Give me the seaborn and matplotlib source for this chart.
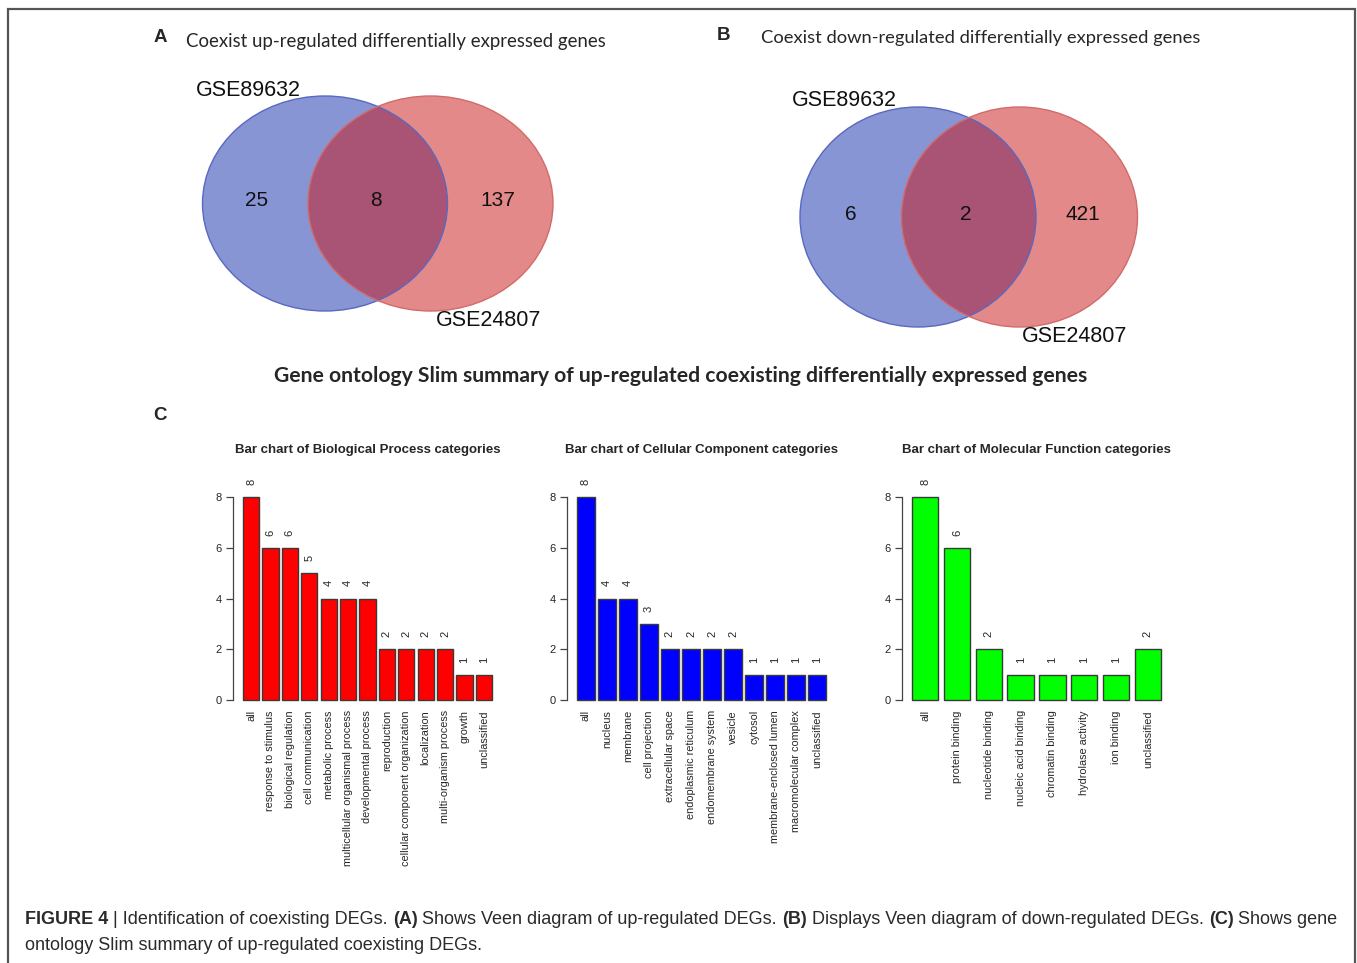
import matplotlib
matplotlib.use("Agg")
import matplotlib.pyplot as plt
import pandas as pd
import seaborn as sns
from matplotlib.patches import Ellipse

# ---- data -----------------------------------------------------------------
venn_sets = ["GSE89632", "GSE24807"]
up_counts = [25, 8, 137]      # only GSE89632, shared, only GSE24807
down_counts = [6, 2, 421]

bp_terms = ["all", "response to stimulus", "biological regulation",
            "cell communication", "metabolic process",
            "multicellular organismal process", "developmental process",
            "reproduction", "cellular component organization",
            "localization", "multi-organism process", "growth",
            "unclassified"]
bp_counts = [8, 6, 6, 5, 4, 4, 4, 2, 2, 2, 2, 1, 1]

cc_terms = ["all", "nucleus", "membrane", "cell projection",
            "extracellular space", "endoplasmic reticulum",
            "endomembrane system", "vesicle", "cytosol",
            "membrane-enclosed lumen", "macromolecular complex",
            "unclassified"]
cc_counts = [8, 4, 4, 3, 2, 2, 2, 2, 1, 1, 1, 1]

mf_terms = ["all", "protein binding", "nucleotide binding",
            "nucleic acid binding", "chromatin binding",
            "hydrolase activity", "ion binding", "unclassified"]
mf_counts = [8, 6, 2, 1, 1, 1, 1, 2]

y_ticks = [0, 2, 4, 6, 8]

# ---- figure setup -----------------------------------------------------------
sns.set_style("white")
plt.rcParams["font.family"] = ["Liberation Sans", "DejaVu Sans"]

W, H = 1357, 963
fig = plt.figure(figsize=(W / 100, H / 100), dpi=100)
fig.patch.set_facecolor("white")


def px_axes(x0, y0, x1, y1):
    return fig.add_axes([x0 / W, 1 - y1 / H, (x1 - x0) / W, (y1 - y0) / H])


# overlay in pixel units for titles, Venn diagrams and caption
ov = fig.add_axes([0, 0, 1, 1])
ov.set_xlim(0, W)
ov.set_ylim(H, 0)
ov.set_axis_off()

# outer frame (open at the bottom)
ov.plot([8, 8, 1355, 1355], [H, 9, 9, H], color="#555555", lw=1.6,
        clip_on=False, solid_joinstyle="miter")

HUMANIST = ["Lato", "DejaVu Sans"]

# ---- Venn diagrams ----------------------------------------------------------
BLUE = "#112dad"
RED = "#cb1515"


def draw_venn(centers, size, counts, count_pos, label_pos):
    (bx, by), (rx, ry) = centers
    w, h = size
    ov.add_patch(Ellipse((bx, by), w, h, facecolor=BLUE, alpha=0.5,
                         edgecolor="none"))
    ov.add_patch(Ellipse((rx, ry), w, h, facecolor=RED, alpha=0.5,
                         edgecolor="none"))
    ov.add_patch(Ellipse((bx, by), w, h, facecolor="none",
                         edgecolor="#5a68c0", lw=1.0))
    ov.add_patch(Ellipse((rx, ry), w, h, facecolor="none",
                         edgecolor="#d26a6a", lw=1.0))
    for n, (x, y) in zip(counts, count_pos):
        ov.text(x, y, str(n), ha="center", va="center", fontsize=15,
                color="#111111")
    for name, (x, y) in zip(venn_sets, label_pos):
        ov.text(x, y, name, ha="center", va="center", fontsize=15.5,
                color="#111111")


draw_venn([(325, 203.5), (430.5, 203.5)], (245, 215), up_counts,
          [(257, 201), (376, 201), (498, 201)],
          [(248, 90), (489, 320)])
draw_venn([(918, 217), (1019.5, 217)], (236, 220), down_counts,
          [(851, 214), (966, 214), (1083, 215)],
          [(844, 101), (1075, 336)])

ov.text(160, 37, "A", fontsize=13.5, fontweight="bold", ha="center",
        va="center")
ov.text(186, 42, "Coexist up-regulated differentially expressed genes",
        family=HUMANIST, fontsize=13.4, ha="left", va="center")
ov.text(723, 36, "B", fontsize=13.5, fontweight="bold", ha="center",
        va="center")
ov.text(761, 38, "Coexist down-regulated differentially expressed genes",
        family=HUMANIST, fontsize=13.2, ha="left", va="center")

ov.text(681, 376,
        "Gene ontology Slim summary of up-regulated coexisting "
        "differentially expressed genes",
        family=HUMANIST, fontsize=15.2, fontweight="bold", ha="center",
        va="center")
ov.text(160, 416, "C", fontsize=13.5, fontweight="bold", ha="center",
        va="center")

# ---- GO slim bar charts -----------------------------------------------------
Y0_PX, PX_PER_UNIT = 700, 25.375
YLO, YHI = -0.32, 8.32
panels = [
    (bp_terms, bp_counts, "#ff0000",
     "Bar chart of Biological Process categories", 233),
    (cc_terms, cc_counts, "#0000ff",
     "Bar chart of Cellular Component categories", 567),
    (mf_terms, mf_counts, "#00ff00",
     "Bar chart of Molecular Function categories", 902),
]

for terms, counts, colour, title, left in panels:
    n = len(terms)
    half = 0.5 / 1.2
    pad = 0.04 * (n - 1 / 6)
    top = Y0_PX - YHI * PX_PER_UNIT
    bottom = Y0_PX - YLO * PX_PER_UNIT
    ax = px_axes(left, top, left + 269, bottom)
    df = pd.DataFrame({"term": terms, "count": counts})
    sns.barplot(data=df, x="term", y="count", color=colour, saturation=1,
                width=2 * half, edgecolor="#3a3a3a", linewidth=1.0, ax=ax)
    ax.set_xlim(-half - pad, n - 1 + half + pad)
    ax.set_ylim(YLO, YHI)
    ax.set_facecolor("none")
    for side in ("top", "right", "bottom"):
        ax.spines[side].set_visible(False)
    ax.spines["left"].set_bounds(0, 8)
    ax.spines["left"].set_color("#444444")
    ax.spines["left"].set_linewidth(0.9)
    ax.set_yticks(y_ticks)
    ax.tick_params(axis="y", direction="out", length=5, width=0.9,
                   color="#444444", labelsize=8, pad=3, left=True)
    ax.tick_params(axis="x", length=0, pad=1.5, labelsize=7.8,
                   labelrotation=90)
    ax.set_xlabel("")
    ax.set_ylabel("")
    for i, v in enumerate(counts):
        ax.text(i, v + 0.6, str(v), rotation=90, ha="center", va="center",
                fontsize=8, clip_on=False)
    ax.set_title(title, fontsize=9.5, fontweight="bold", pad=26)

# ---- caption ----------------------------------------------------------------
renderer = fig.canvas.get_renderer()
CAP_SIZE = 13
CAP_COLOR = "#2a2a2a"


def text_width(s, weight):
    t = ov.text(0, 0, s, fontsize=CAP_SIZE, fontweight=weight)
    w = t.get_window_extent(renderer).width
    t.remove()
    return w


space_w = text_width("a a", "normal") - text_width("aa", "normal")


def caption_line(pieces, x, y):
    for s, weight in pieces:
        lead = len(s) - len(s.lstrip(" "))
        x += lead * space_w
        core = s.strip(" ")
        t = ov.text(x, y, core, fontsize=CAP_SIZE, fontweight=weight,
                    color=CAP_COLOR, ha="left", va="center")
        x += t.get_window_extent(renderer).width
        x += (len(s) - len(s.rstrip(" "))) * space_w


caption_line([
    ("FIGURE 4", "bold"),
    (" | Identification of coexisting DEGs. ", "normal"),
    ("(A)", "bold"),
    (" Shows Veen diagram of up-regulated DEGs. ", "normal"),
    ("(B)", "bold"),
    (" Displays Veen diagram of down-regulated DEGs. ", "normal"),
    ("(C)", "bold"),
    (" Shows gene", "normal"),
], 25, 920)
caption_line([
    ("ontology Slim summary of up-regulated coexisting DEGs.", "normal"),
], 25, 945)

fig.savefig("out.png", dpi=100, facecolor="white")
